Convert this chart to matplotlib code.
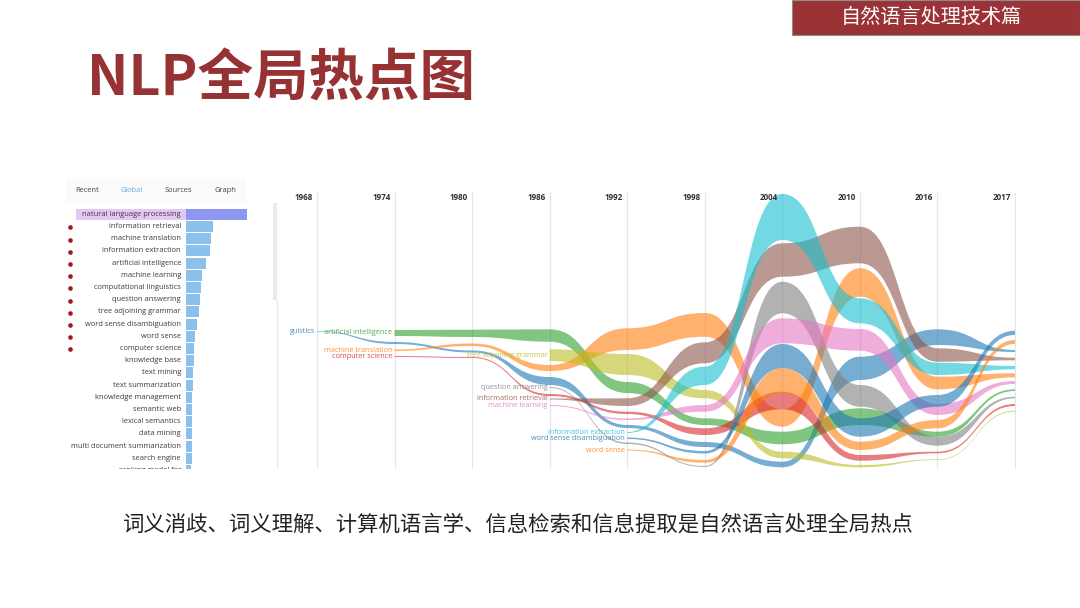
import matplotlib
matplotlib.use("Agg")
import matplotlib.pyplot as plt
import numpy as np
from matplotlib.path import Path
from matplotlib.patches import PathPatch, Rectangle

W, H = 1080, 608
CJK = ['Noto Sans CJK SC', 'DejaVu Sans']
LATIN = ['Open Sans', 'DejaVu Sans']

# ---------- data ----------
title = "NLP全局热点图"
banner = "自然语言处理技术篇"
caption = "词义消歧、词义理解、计算机语言学、信息检索和信息提取是自然语言处理全局热点"
tabs = ["Recent", "Global", "Sources", "Graph"]

terms = ["natural language processing", "information retrieval", "machine translation",
         "information extraction", "artificial intelligence", "machine learning",
         "computational linguistics", "question answering", "tree adjoining grammar",
         "word sense disambiguation", "word sense", "computer science", "knowledge base",
         "text mining", "text summarization", "knowledge management", "semantic web",
         "lexical semantics", "data mining", "multi document summarization",
         "search engine", "ranking model for"]
term_scores = [61, 26.7, 25.3, 23.7, 20, 15.7, 15, 14, 13, 10.7, 9, 8.3, 8, 7.3, 6.7,
               6.3, 6.3, 6.3, 6.3, 5.7, 5.7, 5.3]
marked_rows = [1, 2, 3, 4, 5, 6, 7, 8, 9, 10, 11]

years = ["1968", "1974", "1980", "1986", "1992", "1998", "2004", "2010", "2016", "2017"]

# stream edges per year, in chart position units; the first year index says where a stream begins
linguistics_start = 0
linguistics_top = [331, 342, 350.5, 377, 425, 442, 461.7, 356.7, 329.3, 350]
linguistics_bot = [331.6, 344, 352.5, 385, 428, 447, 467.3, 380, 345, 352]
ai_start = 1
ai_top = [330, 329.7, 329.3, 382, 418.3, 431.7, 408.3, 431.7, 389.3]
ai_bot = [336, 337, 341.7, 393, 425, 444.3, 425, 436.7, 391]
mt_start = 1
mt_top = [349.5, 343.5, 365, 328.3, 313, 409.3, 268.3, 376.7, 373.3]
mt_bot = [351, 346, 371, 350, 336.7, 426.7, 296.7, 389.3, 377.3]
cs_start = 1
cs_top = [356, 357, 394, 411.7, 428.3, 391.7, 455, 451.7, 404]
cs_bot = [357, 358, 396, 414, 435, 409.3, 460.7, 453.3, 406]
tag_start = 3
tag_top = [349.3, 354, 390, 451.7, 465, 459.3, 410.7]
tag_bot = [361, 375, 398.3, 458.3, 467.3, 460, 411.7]
qa_start = 3
qa_top = [387, 442.5, 466, 281.7, 385, 436.7, 396.7]
qa_bot = [388, 444, 467, 313.3, 406.7, 445.7, 398.3]
ir_start = 3
ir_top = [398.5, 398.3, 342.3, 243.3, 226.7, 348.3, 357.7]
ir_bot = [399.5, 406, 363.3, 276.7, 263.3, 361.7, 360.3]
ml_start = 3
ml_top = [405, 418.5, 405, 318.3, 329, 404, 381]
ml_bot = [406, 420, 411.7, 343.3, 350.7, 415, 384]
ie_start = 4
ie_top = [432, 366.7, 194, 298.3, 362.7, 366]
ie_bot = [433, 385, 240, 323.3, 375, 369.3]
wsd_start = 4
wsd_top = [437.5, 451, 344, 418.3, 395, 330.7]
wsd_bot = [439, 453.5, 368.3, 436.7, 406.7, 335]
ws_start = 4
ws_top = [449.5, 460, 368.3, 441.7, 420, 340]
ws_bot = [450.5, 462.7, 393.3, 450, 428.3, 344]

streams = [
    ("guistics", linguistics_start, linguistics_top, linguistics_bot, "#1f77b4"),
    ("artificial intelligence", ai_start, ai_top, ai_bot, "#2ca02c"),
    ("machine translation", mt_start, mt_top, mt_bot, "#ff7f0e"),
    ("computer science", cs_start, cs_top, cs_bot, "#d62728"),
    ("tree adjoining grammar", tag_start, tag_top, tag_bot, "#bcbd22"),
    ("question answering", qa_start, qa_top, qa_bot, "#7f7f7f"),
    ("information retrieval", ir_start, ir_top, ir_bot, "#8c564b"),
    ("machine learning", ml_start, ml_top, ml_bot, "#e377c2"),
    ("information extraction", ie_start, ie_top, ie_bot, "#17becf"),
    ("word sense disambiguation", wsd_start, wsd_top, wsd_bot, "#1f77b4"),
    ("word sense", ws_start, ws_top, ws_bot, "#ff7f0e"),
]


def rect(x0, y0, x1, y1):
    return [x0 / W, 1 - y1 / H, (x1 - x0) / W, (y1 - y0) / H]


fig = plt.figure(figsize=(W / 100, H / 100), dpi=100, facecolor="white")

# ---------- slide furniture ----------
bg = fig.add_axes([0, 0, 1, 1])
bg.set_xlim(0, W)
bg.set_ylim(H, 0)
bg.axis("off")
bg.add_patch(Rectangle((792, 0), 288, 35, fc="#9b3336", ec="#8d8d8d", lw=0.8))
bg.text(931, 17.5, banner, color="white", fontsize=14.5, family=CJK, ha="center", va="center")
bg.text(87, 80, title, color="#963234", fontsize=40, family=CJK, weight="bold",
        ha="left", va="center")
bg.text(123, 525, caption, color="#222222", fontsize=15.4, family=CJK, ha="left", va="center")

# tab strip
bg.add_patch(Rectangle((66, 178), 180, 26, fc="#fbfbfb", ec="none"))
for name, xp in zip(tabs, [87, 132, 178, 225]):
    bg.text(xp, 190, name, fontsize=5.4, family=LATIN, ha="center", va="center",
            color="#6aa8d8" if name == "Global" else "#444444")
bg.add_patch(Rectangle((273, 203), 4, 97, fc="#eeeaec", ec="none"))
bg.plot([277, 277], [300, 468], color="#e6e6ec", lw=0.9)

# ---------- term bars ----------
axb = fig.add_axes(rect(60, 207, 273, 469))
axb.set_xlim(-126, 87)
axb.set_ylim(20.88, -0.6)
axb.axis("off")
rows = np.arange(len(terms))
axb.barh([0], [110], left=[-110], height=0.92, color="#e3c8f5")
bar_colors = ["#8e97f0"] + ["#8cc1ee"] * (len(terms) - 1)
axb.barh(rows, term_scores, height=0.9, color=bar_colors)
for r, t in zip(rows, terms):
    axb.text(-5, r, t, fontsize=5.4, family=LATIN, color="#3c3c3c", ha="right",
             va="center", clip_on=True)
axb.scatter([-116.5] * len(marked_rows), np.array(marked_rows) + 0.08, s=11,
            color="#a8141e", linewidths=0, zorder=3)

# ---------- stream chart ----------
step = (1015 - 317) / 9
axs = fig.add_axes(rect(277, 190, 1017, 469))
axs.set_xlim((277 - 317) / step, (1017 - 317) / step)
axs.set_ylim(469, 190)
axs.axis("off")
for i, y in enumerate(years):
    axs.plot([i, i], [193, 468], color="#e4e4ea", lw=0.9, zorder=1)
    axs.annotate(y, (i, 197), xytext=(-3, 0), textcoords="offset points", fontsize=5.8,
                 weight="bold", family=LATIN, color="#333333", ha="right", va="center")


def band_path(xs, top, bot):
    verts, codes = [(xs[0], top[0])], [Path.MOVETO]
    for a, b, ya, yb in zip(xs[:-1], xs[1:], top[:-1], top[1:]):
        m = (a + b) / 2
        verts += [(m, ya), (m, yb), (b, yb)]
        codes += [Path.CURVE4] * 3
    verts.append((xs[-1], bot[-1]))
    codes.append(Path.LINETO)
    rx, rb = xs[::-1], bot[::-1]
    for a, b, ya, yb in zip(rx[:-1], rx[1:], rb[:-1], rb[1:]):
        m = (a + b) / 2
        verts += [(m, ya), (m, yb), (b, yb)]
        codes += [Path.CURVE4] * 3
    verts.append((xs[0], top[0]))
    codes.append(Path.CLOSEPOLY)
    return Path(verts, codes)


for name, start, top, bot, col in streams:
    xs = list(range(start, start + len(top)))
    axs.add_patch(PathPatch(band_path(xs, top, bot), fc=col, ec="none", alpha=0.6, zorder=2))
    ymid = (top[0] + bot[0]) / 2
    axs.annotate(name, (start, ymid), xytext=(-1.5, 0), textcoords="offset points",
                 fontsize=5.2, family=LATIN, color=col, alpha=0.85, ha="right", va="center",
                 zorder=4, annotation_clip=False)

fig.savefig("out.png", dpi=100, facecolor="white")
